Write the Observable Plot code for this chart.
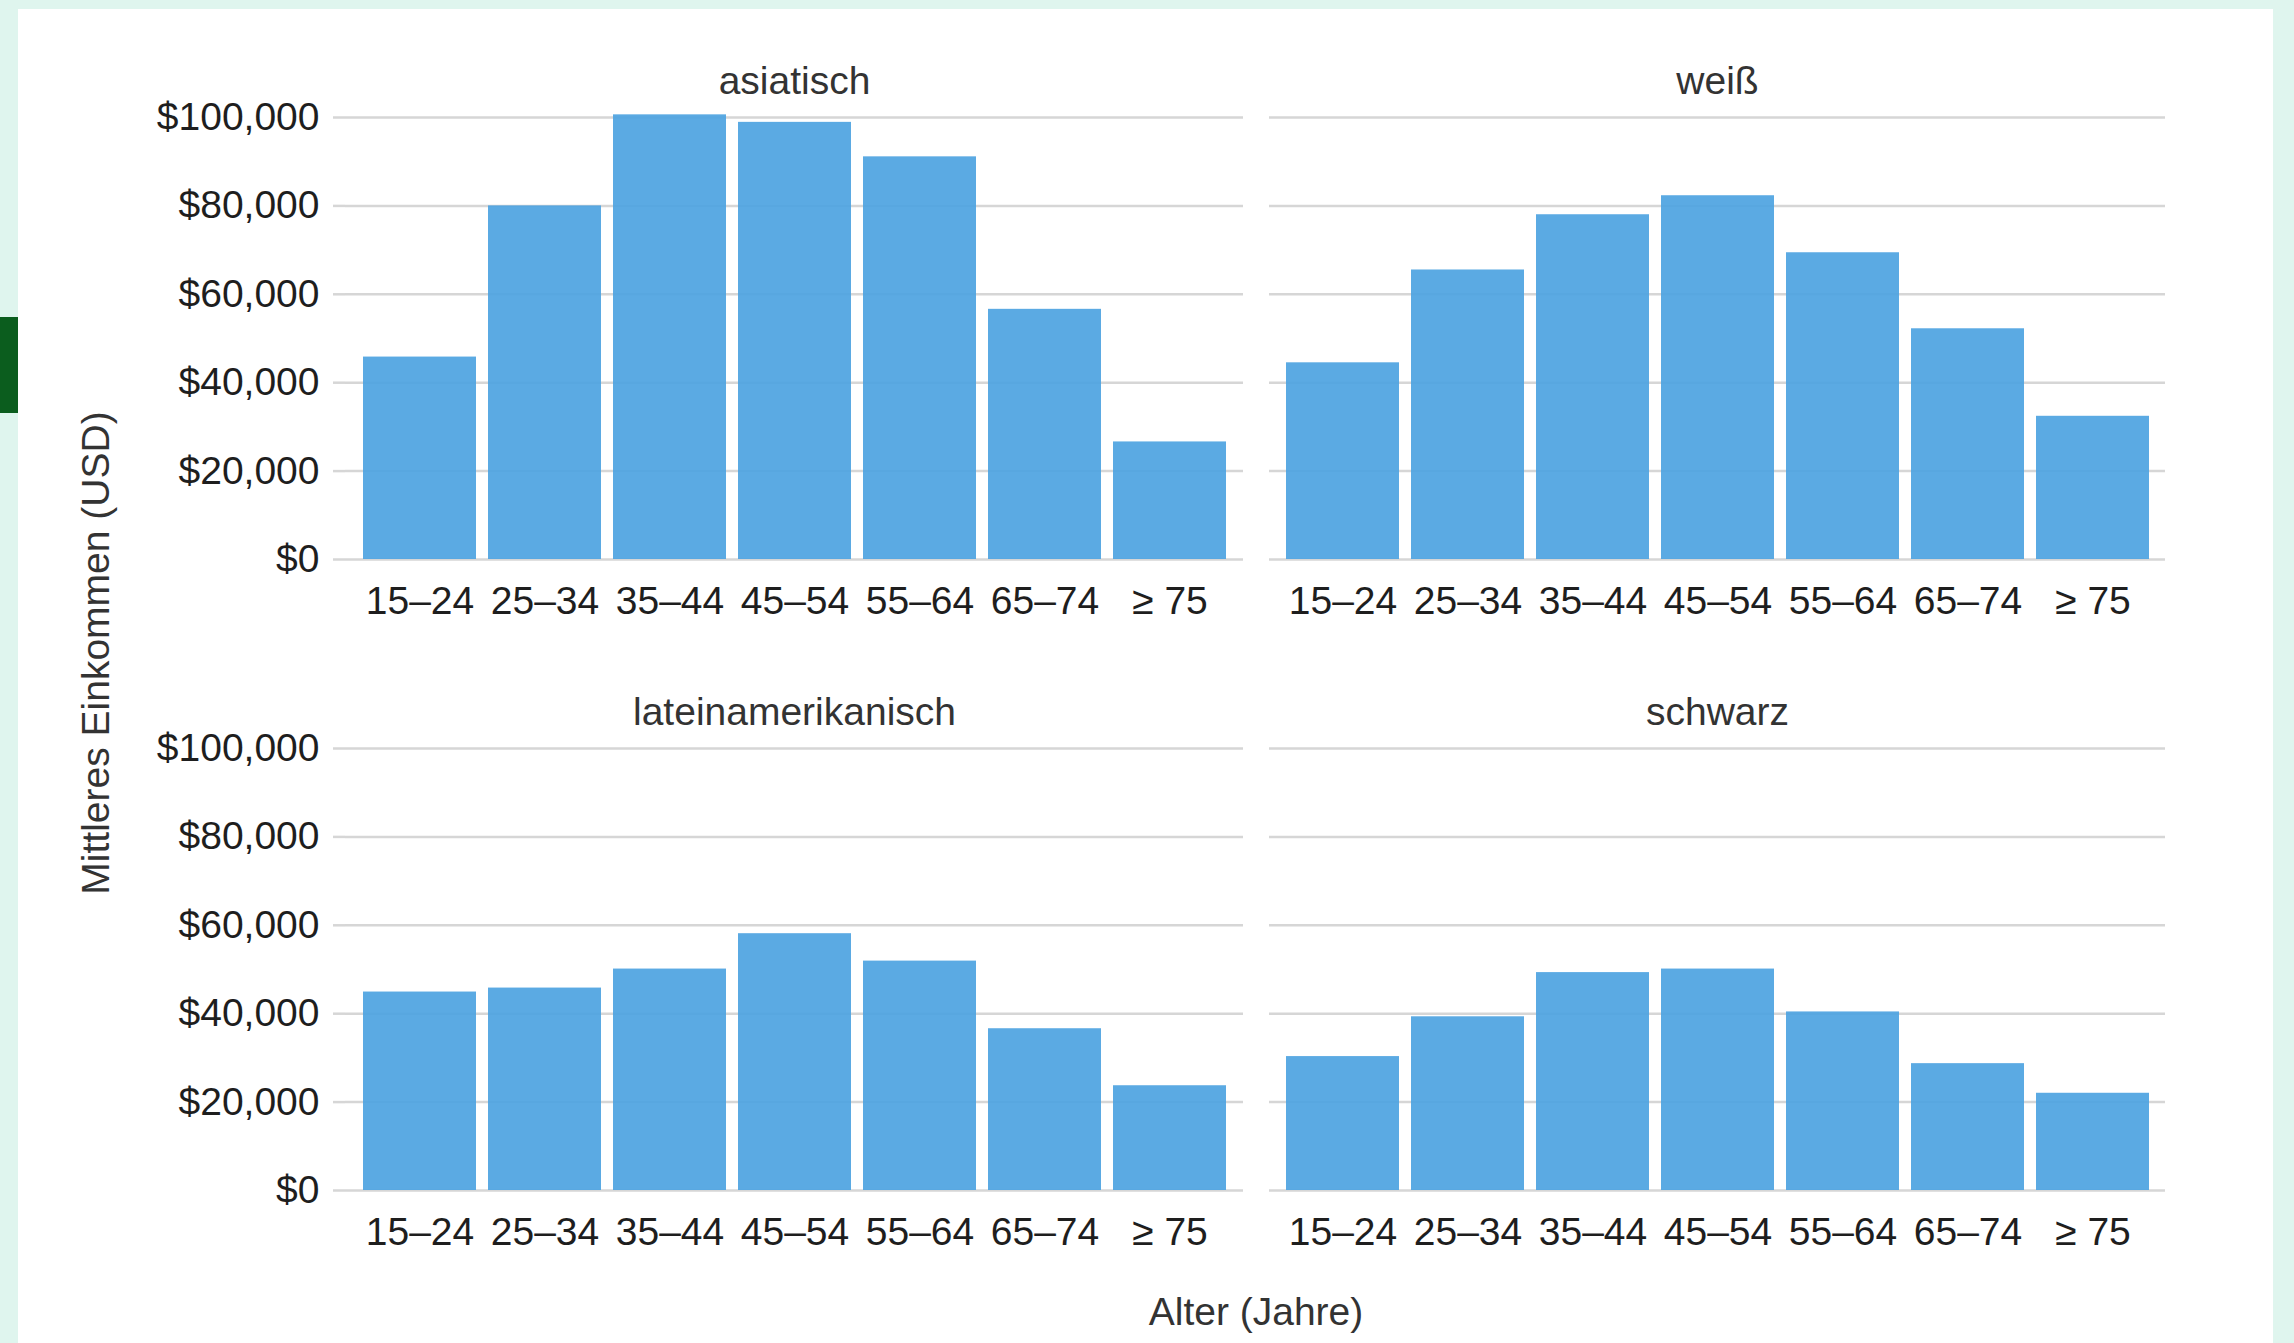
<!DOCTYPE html>
<html>
<head>
<meta charset="utf-8">
<script src="https://cdn.jsdelivr.net/npm/d3@7"></script>
<script src="https://cdn.jsdelivr.net/npm/@observablehq/plot@0.6"></script>
<style>
  html, body { margin: 0; padding: 0; }
  body { width: 2294px; height: 1343px; background: #dff5ee; overflow: hidden;
         font-family: "Liberation Sans", Arial, sans-serif; }
  #wrap { position: relative; width: 2294px; height: 1343px; }
  #card { position: absolute; left: 18px; top: 9px; width: 2255px; height: 1334px; background: #ffffff; }
  #tab { position: absolute; left: 0; top: 317px; width: 18px; height: 96px; background: #0b5d1e; }
  .panel { position: absolute; }
  .ytitle { position: absolute; left: 95px; top: 653px; transform: translate(-50%, -50%) rotate(-90deg);
            white-space: nowrap; font-size: 39px; line-height: 39px; color: #333; }
  .xtitle { position: absolute; left: 1256px; top: 1292px; transform: translateX(-50%);
            white-space: nowrap; font-size: 39px; line-height: 39px; color: #333; }
</style>
</head>
<body>
<div id="wrap">
  <div id="card"></div>
  <div id="tab"></div>
  <div class="ytitle">Mittleres Einkommen (USD)</div>
  <div class="xtitle">Alter (Jahre)</div>
</div>
<script>
// ---- data ----
const ages = ["15–24", "25–34", "35–44", "45–54", "55–64", "65–74", "≥ 75"];
const groups = ["asiatisch", "weiß", "lateinamerikanisch", "schwarz"];
const asiatisch = [45800, 80000, 100600, 98900, 91100, 56600, 26600];
const weiss = [44500, 65500, 78000, 82300, 69400, 52200, 32400];
const lateinamerikanisch = [44900, 45800, 50100, 58100, 51900, 36600, 23700];
const schwarz = [30300, 39300, 49300, 50100, 40400, 28700, 22000];
const yTicks = [0, 20000, 40000, 60000, 80000, 100000];

const seriesByGroup = {
  "asiatisch": asiatisch,
  "weiß": weiss,
  "lateinamerikanisch": lateinamerikanisch,
  "schwarz": schwarz
};

// ---- layout ----
const cols = [
  {left: 20, width: 1236, marginLeft: 325, marginRight: 13, yAxis: true},
  {left: 1256, width: 1030, marginLeft: 13, marginRight: 121, yAxis: false}
];
const rows = [
  {top: 20, height: 630, marginTop: 97, marginBottom: 91},
  {top: 650, height: 610, marginTop: 98, marginBottom: 70}
];

const gridColor = "#d6d6d6";
const wrap = document.getElementById("wrap");

groups.forEach((g, i) => {
  const c = cols[i % 2];
  const r = rows[Math.floor(i / 2)];
  const data = ages.map((a, k) => ({age: a, income: seriesByGroup[g][k]}));
  const marks = [
    Plot.gridY(yTicks, {stroke: gridColor, strokeOpacity: 1, strokeWidth: 2.5}),
    Plot.barY(data, {x: "age", y: "income", fill: "#4da3e1", fillOpacity: 0.92}),
    Plot.axisX({tickSize: 0, tickPadding: 27, label: null, fill: "#1e1e1e"}),
    Plot.text([g], {frameAnchor: "top", dy: -24, lineAnchor: "bottom", fontSize: 39, fill: "#333"})
  ];
  if (c.yAxis) {
    marks.push(Plot.axisY(yTicks, {
      tickSize: 12, tickPadding: 14, stroke: gridColor, strokeWidth: 2.5,
      tickFormat: d3.format("$,"), label: null, fill: "#1e1e1e"
    }));
  }
  const chart = Plot.plot({
    width: c.width,
    height: r.height,
    marginLeft: c.marginLeft,
    marginRight: c.marginRight,
    marginTop: r.marginTop,
    marginBottom: r.marginBottom,
    style: {fontFamily: '"Liberation Sans", Arial, sans-serif', fontSize: "39px", background: "transparent", color: "#1e1e1e", overflow: "visible"},
    x: {domain: ages, paddingInner: 0.1, paddingOuter: 0.13, axis: null},
    y: {domain: [0, 100000], axis: null},
    marks
  });
  chart.classList.add("panel");
  chart.style.position = "absolute";
  chart.style.left = c.left + "px";
  chart.style.top = r.top + "px";
  chart.style.maxWidth = "none";
  wrap.appendChild(chart);
});
</script>
</body>
</html>
